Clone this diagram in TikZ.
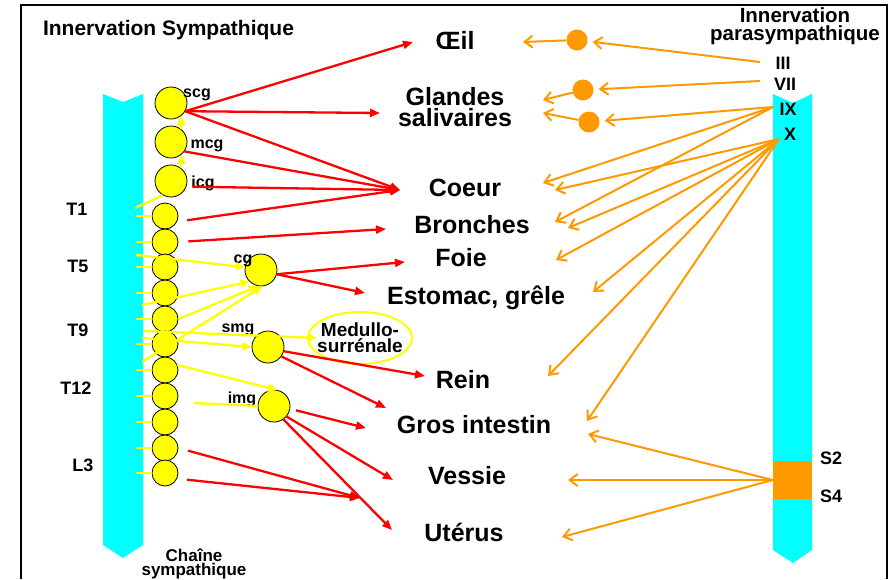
\documentclass[tikz,border=0pt]{standalone}
\usepackage{fontspec}
\setmainfont{Liberation Sans}
\usetikzlibrary{arrows.meta}
\definecolor{barcyan}{RGB}{0,255,255}
\definecolor{gangyellow}{RGB}{255,255,0}
\definecolor{sympred}{RGB}{255,0,0}
\definecolor{paraorange}{RGB}{255,153,0}

\begin{document}
\begin{tikzpicture}[
        x=1pt, y=-1pt,
        ganglion/.style={circle, draw=black, line width=0.8pt, fill=gangyellow,
            inner sep=0pt, minimum size=#1},
        ganglion/.default=26pt,
        paraganglion/.style={circle, fill=paraorange, inner sep=0pt, minimum size=21pt},
        organ/.style={font=\bfseries\fontsize{25}{21}\selectfont, inner sep=0pt, anchor=base},
        gname/.style={font=\bfseries\fontsize{16}{16}\selectfont, inner sep=0pt, anchor=base},
        seglabel/.style={font=\bfseries\fontsize{18}{18}\selectfont, inner sep=0pt, anchor=base},
        symp/.style={draw=sympred, line width=2.3pt, -{Triangle[length=10pt,width=8pt]}},
        preg/.style={draw=gangyellow, line width=2.3pt},
        pregarrow/.style={preg, -{Triangle[length=9pt,width=8pt]}},
        para/.style={draw=paraorange, line width=2pt, -{Straight Barb[length=8pt,width=12pt]}},
    ]
  \useasboundingbox (0,0) rectangle (888,579);
  \draw[line width=2pt] (21,579) -- (21,5) -- (887,5) -- (887,579);

  % spinal cord, both sides
  \fill[barcyan] (103,94) -- (123,102) -- (143,94) -- (143,545) -- (123,558) -- (103,545) -- cycle;
  \fill[barcyan] (773,94) -- (793,103) -- (812,94) -- (812,550) -- (793,563) -- (773,550) -- cycle;
  \node[fill=paraorange, minimum width=39pt, minimum height=38pt, inner sep=0pt] (sacral) at (792.5,480) {};

  % ganglia
  \node[ganglion=32pt] (scg) at (171,103) {};
  \node[ganglion=32pt] (mcg) at (171,142) {};
  \node[ganglion=32pt] (icg) at (171,181) {};
  \foreach \i/\y in {1/216,2/242,3/267,4/293,5/319,6/344,7/370,8/396,9/422,10/448,11/473}
    \node[ganglion] (g\i) at (165,\y) {};
  \node[ganglion=32pt] (cg) at (261,270) {};
  \node[ganglion=32pt] (smg) at (268,347) {};
  \node[ganglion=32pt] (img) at (274,406) {};
  \node[paraganglion] (oc1) at (577,40) {};
  \node[paraganglion] (oc2) at (583,90) {};
  \node[paraganglion] (oc3) at (589,122) {};

  \node[gname] (lscg) at (197,97) {scg};
  \node[gname] (lmcg) at (207,148) {mcg};
  \node[gname] (licg) at (203,187) {icg};
  \node[gname] (lcg) at (243,263) {cg};
  \node[gname] (lsmg) at (238,332) {smg};
  \node[gname] (limg) at (242,403) {img};

  \node[seglabel] (T1) at (77,215) {T1};
  \node[seglabel] (T5) at (78,272) {T5};
  \node[seglabel] (T9) at (78,336) {T9};
  \node[seglabel] (T12) at (76,394) {T12};
  \node[seglabel] (L3) at (83,471) {L3};
  \node[seglabel] (III) at (783,69) {III};
  \node[seglabel] (VII) at (785,90) {VII};
  \node[seglabel] (IX) at (788,115) {IX};
  \node[seglabel] (X) at (790,140) {X};
  \node[seglabel] (S2) at (831,464) {S2};
  \node[seglabel] (S4) at (831,502) {S4};

  \node[font=\bfseries\fontsize{21}{21}\selectfont, inner sep=0pt, anchor=base] (symhead)
    at (168.5,35) {Innervation Sympathique};
  \node[font=\bfseries\fontsize{20.5}{18}\selectfont, align=center, inner sep=0pt] (parahead)
    at (795,26) {Innervation\\parasympathique};
  \node[font=\bfseries\fontsize{17}{14}\selectfont, align=center, inner sep=0pt] (chain)
    at (194,564) {Chaîne\\sympathique};

  % organs
  \node[organ] (oeil) at (455,49) {Œil};
  \node[organ, anchor=center, align=center] (glandes) at (455,107) {Glandes\\salivaires};
  \node[organ] (coeur) at (465,196) {Coeur};
  \node[organ] (bronches) at (472,233) {Bronches};
  \node[organ] (foie) at (461,266) {Foie};
  \node[organ] (estomac) at (476,304) {Estomac, grêle};
  \node[organ] (rein) at (463,388) {Rein};
  \node[organ] (gros) at (474,433) {Gros intestin};
  \node[organ] (vessie) at (467,484) {Vessie};
  \node[organ] (uterus) at (464,541) {Utérus};
  \node[font=\bfseries\fontsize{19}{16}\selectfont, align=center, inner sep=0pt] (medullo)
    at (360,338) {Medullo-\\surrénale};
  \draw[draw=gangyellow, line width=2pt] (medullo) ellipse [x radius=52, y radius=26];

  % free ends
  \foreach \n/\p in {r1/{135,208}, r2/{136,255}, r3/{142,305}, r4/{143,331}, r5/{142,338},
      r6/{142,362}, r7/{194,403},
      oeilL/{413,42}, glandL/{380,113}, coeurL/{400,190}, bronchL/{386,229}, foieL/{405,262},
      estL/{365,293}, reinL/{425,376}, giLa/{386,408}, giLb/{366,428}, vessieL/{393,480},
      uterL/{392,530}, pelvL/{360,498},
      nIII/{760,62}, nVII/{760,81}, nIX/{773,107}, nX/{779,139},
      oeilR/{523,42}, glandRa/{543,100}, glandRb/{543,113}, coeurRa/{543,183}, coeurRb/{555,190},
      bronchRa/{555,222}, bronchRb/{568,228}, foieR/{556,260}, estR/{593,292}, reinR/{548,376},
      giRa/{587,421}, giRb/{588,434}, vessieR/{568,480}, uterR/{562,537}}
    \coordinate (\n) at (\p);

  % preganglionic fibres
  \foreach \i in {1,...,11}
    \draw[preg] (g\i.west) -- ++(-16,0);
  \draw[preg] (r1) -- (icg.-120);
  \draw[pregarrow] (icg.51) -- (mcg.-51);
  \draw[pregarrow] (mcg.51) -- (scg.-51);
  \draw[pregarrow] (r2) -- (cg.170);
  \draw[pregarrow] (r3) -- (cg.-135);
  \draw[pregarrow] (g5.east) -- (cg.-100);
  \draw[pregarrow] (r6) -- (cg.-85);
  \draw[pregarrow] (r4) -- (medullo.west);
  \draw[pregarrow] (r5) -- (smg.west);
  \draw[pregarrow] (g7.22) -- (img.79);
  \draw[preg] (r7) -- (img.west);

  % sympathetic
  \draw[symp] (scg.-30) -- (oeilL);
  \draw[symp] (scg.-30) -- (glandL);
  \draw[symp] (scg.-30) -- (coeurL);
  \draw[symp] (mcg.-35) -- (coeurL);
  \draw[symp, shorten <=6pt] (icg.-20) -- (coeurL);
  \draw[symp, shorten <=10pt] (g1.-25) -- (coeurL);
  \draw[symp, shorten <=10pt] (g2.east) -- (bronchL);
  \draw[symp] (cg.-15) -- (foieL);
  \draw[symp] (cg.-15) -- (estL);
  \draw[symp] (smg.-15) -- (reinL);
  \draw[symp] (smg.-35) -- (giLa);
  \draw[symp, shorten <=6pt] (img.-10) -- (giLb);
  \draw[symp] (img.-40) -- (vessieL);
  \draw[symp] (img.-55) -- (uterL);
  \draw[symp, shorten <=10pt] (g10.east) -- (pelvL);
  \draw[symp, shorten <=10pt] (g11.-25) -- (pelvL);

  % parasympathetic
  \draw[para, shorten >=5pt] (nIII) -- (oc1);
  \draw[para] (oc1) -- (oeilR);
  \draw[para, shorten >=5pt] (nVII) -- (oc2);
  \draw[para] (oc2) -- (glandRa);
  \draw[para, shorten >=5pt] (nIX) -- (oc3);
  \draw[para] (oc3) -- (glandRb);
  \draw[para] (nIX) -- (coeurRa);
  \draw[para] (nIX) -- (bronchRa);
  \draw[para] (nX) -- (coeurRb);
  \draw[para] (nX) -- (bronchRb);
  \draw[para] (nX) -- (foieR);
  \draw[para] (nX) -- (estR);
  \draw[para] (nX) -- (reinR);
  \draw[para] (nX) -- (giRa);
  \draw[para] (sacral.west) -- (giRb);
  \draw[para] (sacral.west) -- (vessieR);
  \draw[para] (sacral.west) -- (uterR);
\end{tikzpicture}
\end{document}
